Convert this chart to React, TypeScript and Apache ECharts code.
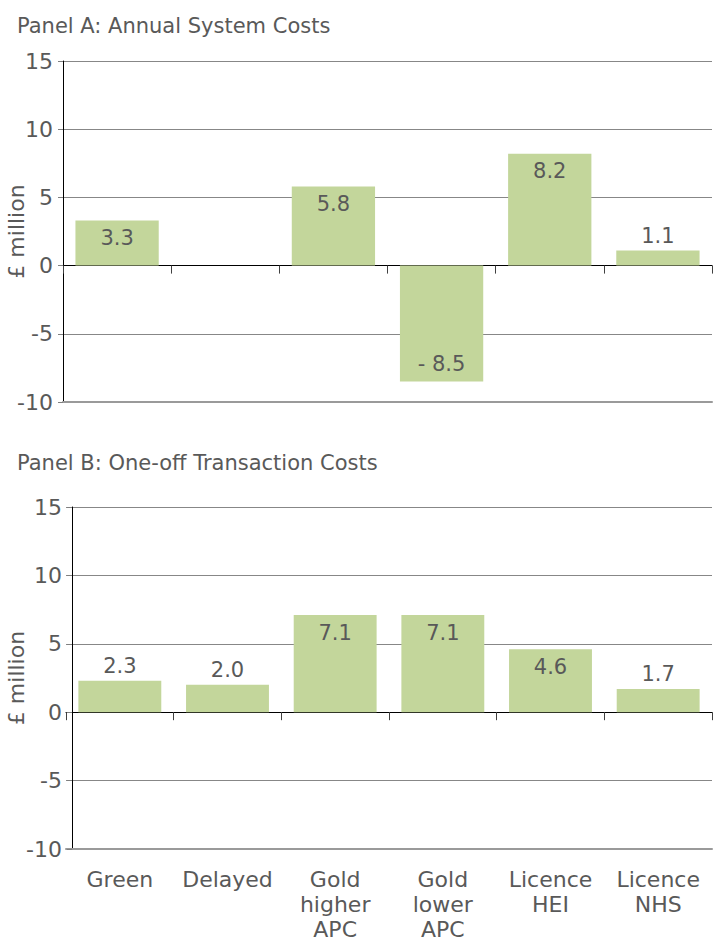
import React, { useEffect, useRef } from "react";
import * as echarts from "echarts";

const categories = ["Green", "Delayed", "Gold\nhigher\nAPC", "Gold\nlower\nAPC", "Licence\nHEI", "Licence\nNHS"];
const annualCosts = [3.3, 0, 5.8, -8.5, 8.2, 1.1];
const transactionCosts = [2.3, 2.0, 7.1, 7.1, 4.6, 1.7];
const panelTitles = ["Panel A: Annual System Costs", "Panel B: One-off Transaction Costs"];
const yAxisName = "£ million";
const yMin = -10;
const yMax = 15;
const yStep = 5;

const FONT = "DejaVu Sans";
const TEXT = "#595959";
const BAR = "#C3D69B";

function fmt(v: number) {
  if (v === 0) return "";
  return v < 0 ? "- " + Math.abs(v).toFixed(1) : v.toFixed(1);
}

function barData(values: number[]) {
  return values.map((v) => {
    const inside = Math.abs(v) >= 3;
    return {
      value: v,
      label: {
        position: inside ? (v >= 0 ? "insideTop" : "insideBottom") : v >= 0 ? "top" : "bottom",
        distance: inside ? 7 : 4,
      },
    };
  });
}

export default function App() {
  const ref = useRef<HTMLDivElement>(null);
  useEffect(() => {
    document.body.style.margin = "0";
    const chart = echarts.init(ref.current!, null, { renderer: "svg" });
    const yAxisBase = (gridIndex: number, offset: number, nameGap: number) => ({
      type: "value",
      gridIndex,
      min: yMin,
      max: yMax,
      interval: yStep,
      offset,
      name: yAxisName,
      nameLocation: "middle",
      nameRotate: 90,
      nameGap,
      nameMoveOverlap: false,
      nameTextStyle: { fontFamily: FONT, fontSize: 22, color: TEXT },
      axisLine: { show: true, lineStyle: { color: "#000", width: 1 } },
      axisTick: { show: true, length: 5, lineStyle: { color: "#7f7f7f" } },
      axisLabel: { margin: 10, fontFamily: FONT, fontSize: 22, color: TEXT },
      splitLine: { show: true, lineStyle: { color: "#878787", width: 1 } },
    });
    const zeroAxis = (gridIndex: number) => ({
      type: "category",
      gridIndex,
      data: categories,
      position: "bottom",
      axisLine: { show: true, onZero: true, lineStyle: { color: "#000", width: 1 } },
      axisTick: { show: true, length: 8, lineStyle: { color: "#404040" } },
      axisLabel: { show: false },
      splitLine: { show: false },
    });
    const bottomAxis = (gridIndex: number, showLabels: boolean) => ({
      type: "category",
      gridIndex,
      data: categories,
      position: "bottom",
      axisLine: { show: true, onZero: false, lineStyle: { color: "#9a9a9a", width: 2 } },
      axisTick: { show: false },
      axisLabel: {
        show: showLabels,
        interval: 0,
        margin: 18,
        fontFamily: FONT,
        fontSize: 22,
        lineHeight: 25,
        color: TEXT,
      },
      splitLine: { show: false },
    });
    const seriesBase = (xAxisIndex: number, yAxisIndex: number, values: number[]) => ({
      type: "bar",
      xAxisIndex,
      yAxisIndex,
      data: barData(values),
      barWidth: "77%",
      itemStyle: { color: BAR },
      label: {
        show: true,
        fontFamily: FONT,
        fontSize: 21,
        color: TEXT,
        formatter: (p: any) => fmt(p.value),
      },
    });
    const titleStyle = { fontFamily: FONT, fontSize: 21, fontWeight: "normal", color: TEXT, lineHeight: 24 };
    chart.setOption({
      animation: false,
      backgroundColor: "#fff",
      title: [
        { text: panelTitles[0], left: 12, top: 9, textStyle: titleStyle },
        { text: panelTitles[1], left: 12, top: 446, textStyle: titleStyle },
      ],
      grid: [
        { left: 63, right: 8, top: 61, height: 341, outerBoundsMode: "none" },
        { left: 66, right: 8, top: 507, height: 342, outerBoundsMode: "none" },
      ],
      xAxis: [zeroAxis(0), bottomAxis(0, false), zeroAxis(1), bottomAxis(1, true)],
      yAxis: [yAxisBase(0, 0, 36), yAxisBase(1, -6, 45)],
      series: [seriesBase(0, 0, annualCosts), seriesBase(2, 1, transactionCosts)],
    });
    return () => chart.dispose();
  }, []);
  return <div ref={ref} style={{ position: "absolute", left: 0, top: 0, width: 720, height: 942 }} />;
}
